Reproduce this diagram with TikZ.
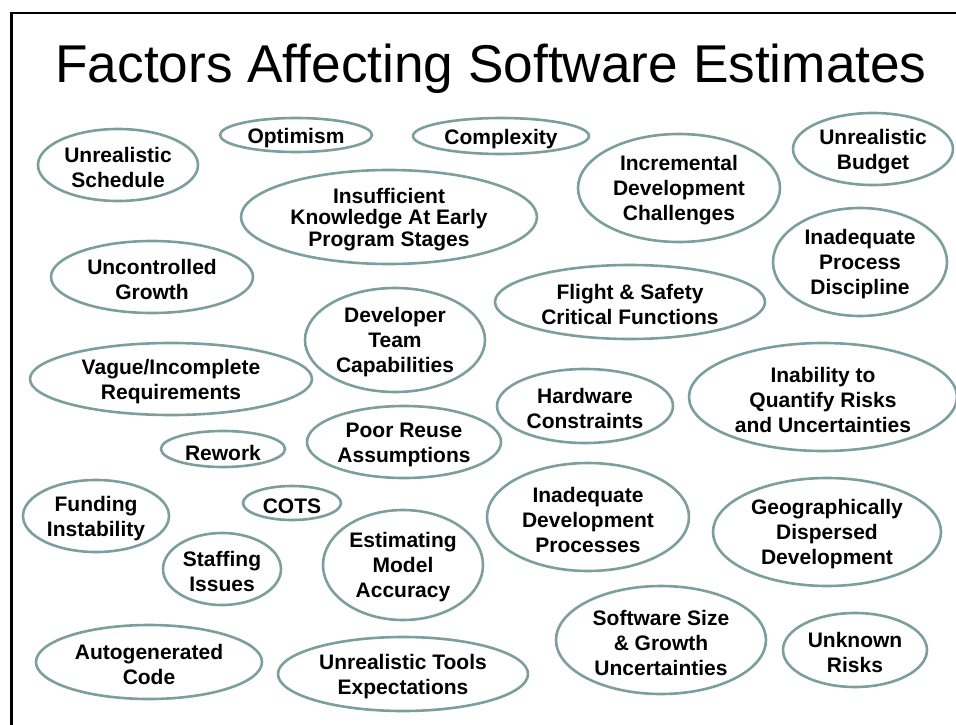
\documentclass[tikz,border=0pt]{standalone}
\usepackage{fontspec}
\setmainfont{Liberation Sans}
\begin{document}
\begin{tikzpicture}[x=1pt,y=-1pt,
  ring/.style={draw=ringcol, line width=2.6pt},
  lbl/.style={align=center, inner sep=0pt, yshift=-2.5pt,
    font=\bfseries\fontsize{21}{25}\selectfont},
  tightlbl/.style={lbl, font=\bfseries\fontsize{21}{21.5}\selectfont},
  frame/.style={draw=black, line width=2.4pt}]
\definecolor{ringcol}{RGB}{124,158,159}
\useasboundingbox (0,0) rectangle (956,725);

% slide frame (top and left edges)
\coordinate (fbl) at (11.5,726);
\coordinate (ftl) at (11.5,13);
\coordinate (ftr) at (957,13);
\draw[frame] (fbl) -- (ftl) -- (ftr);

% title
\node[anchor=base, inner sep=0pt, font=\fontsize{53.2}{60}\selectfont] (title) at (491,82)
  {Factors Affecting Software Estimates};

% factor bubbles: label node, then its ellipse around the same centre
\newcommand{\factor}[6][lbl]{%
  \node[#1] (#2) at #3 {#6};
  \draw[ring] #3 ellipse [x radius=#4, y radius=#5];}

\factor{sched}{(118,165)}{80}{36}{Unrealistic\\Schedule}
\factor[lbl,yshift=-1pt]{optim}{(296,135)}{76}{17}{Optimism}
\factor[lbl,yshift=-1pt]{cplx}{(501,136)}{88}{18}{Complexity}
\factor{incr}{(679,188)}{101}{54}{Incremental\\Development\\Challenges}
\factor{budget}{(873,149)}{80}{36}{Unrealistic\\Budget}
\factor[tightlbl]{insuf}{(389,217)}{148}{47}{Insufficient\\Knowledge At Early\\Program Stages}
\factor{growth}{(152,277)}{101}{36}{Uncontrolled\\Growth}
\factor{procdisc}{(860,262)}{87}{54}{Inadequate\\Process\\Discipline}
\factor{flight}{(630,302)}{135}{37}{Flight \& Safety\\Critical Functions}
\factor{devteam}{(395,340)}{90}{52}{Developer\\Team\\Capabilities}
\factor{vague}{(171,379)}{141}{36}{Vague/Incomplete\\Requirements}
\factor{quant}{(823,397)}{134}{54}{Inability to\\Quantify Risks\\and Uncertainties}
\factor{hw}{(585,406)}{88}{37}{Hardware\\Constraints}
\factor[lbl,yshift=-1pt]{rework}{(223,449)}{62}{18}{Rework}
\factor{reuse}{(404,442)}{97}{36}{Poor Reuse\\Assumptions}
\factor{fund}{(96,516)}{73}{36}{Funding\\Instability}
\factor[lbl,yshift=-1pt]{cots}{(292,503)}{49}{17}{COTS}
\factor{devproc}{(588,517)}{101}{54}{Inadequate\\Development\\Processes}
\factor{geo}{(827,532)}{114}{54}{Geographically\\Dispersed\\Development}
\factor{staff}{(222,569)}{59}{36}{Staffing\\Issues}
\factor{estim}{(403,565)}{80}{55}{Estimating\\Model\\Accuracy}
\factor{size}{(661,640)}{105}{54}{Software Size\\\& Growth\\Uncertainties}
\factor{unk}{(855,650)}{72}{37}{Unknown\\Risks}
\factor{auto}{(149,662)}{113}{37}{Autogenerated\\Code}
\factor{tools}{(403,674)}{125}{37}{Unrealistic Tools\\Expectations}
\end{tikzpicture}
\end{document}
